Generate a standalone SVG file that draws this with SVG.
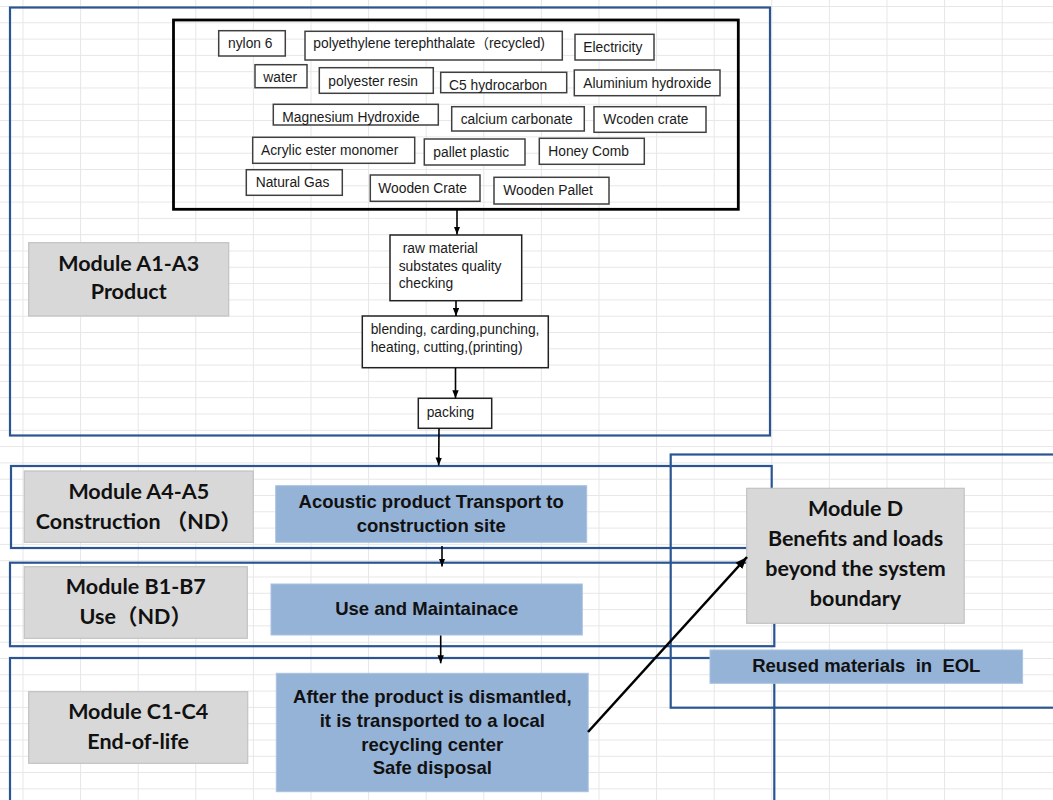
<svg xmlns="http://www.w3.org/2000/svg" width="1053" height="800" viewBox="0 0 1053 800">
<style>
.frame{fill:none;stroke:#2a5592;stroke-width:2.2}
.mat{fill:#fff;stroke:#404040;stroke-width:1.5}
.proc{fill:#fff;stroke:#222;stroke-width:1.5}
.mt{font-family:'Liberation Sans',Arial,'Noto Sans CJK SC',sans-serif;font-size:13.8px;fill:#1a1a1a}
.glab{fill:#d8d8d8;stroke:#c2c2c2;stroke-width:1.2}
.gt{font-family:Lato,'Noto Sans CJK SC',sans-serif;font-weight:700;font-size:21.5px;fill:#111;text-anchor:middle}
.blue{fill:#95b3d7;stroke:#a9c2e0;stroke-width:1}
.bt{font-family:'Liberation Sans',Arial,sans-serif;font-weight:700;font-size:18.5px;fill:#111;text-anchor:middle;white-space:pre}
.arr{stroke:#000;stroke-width:1.6;fill:none;marker-end:url(#ah)}
.arr2{stroke:#000;stroke-width:2.6;fill:none;marker-end:url(#ah2)}
</style>
<defs>
<pattern id="grid" x="22.5" y="6" width="57.6" height="16.3" patternUnits="userSpaceOnUse">
<path d="M0 0.5H57.6M0.5 0V16.3" stroke="#e6e6e6" stroke-width="1" fill="none"/>
</pattern>
<marker id="ah" markerUnits="userSpaceOnUse" markerWidth="8" markerHeight="8" viewBox="0 0 8 8" refX="8" refY="4" orient="auto">
<path d="M0 0.8L8 4L0 7.2Z" fill="#000"/>
</marker>
<marker id="ah2" markerUnits="userSpaceOnUse" markerWidth="12" markerHeight="10" viewBox="0 0 12 10" refX="12" refY="5" orient="auto">
<path d="M0 0.5L12 5L0 9.5Z" fill="#000"/>
</marker>
</defs>
<rect width="1053" height="800" fill="#fff"/>
<rect width="1053" height="800" fill="url(#grid)"/>

<g id="frames">
<rect id="frame-a1a3" class="frame" x="10" y="7.5" width="760" height="428"/>
<rect id="frame-a4a5" class="frame" x="11" y="466" width="760.7" height="82"/>
<rect id="frame-b1b7" class="frame" x="10" y="562.7" width="764.3" height="83.5"/>
<rect id="frame-c1c4" class="frame" x="10" y="658" width="764.3" height="170"/>
<rect id="frame-d" class="frame" x="670.7" y="454.5" width="420" height="253.2"/>
</g>

<g id="inputs">
<rect x="173.5" y="20" width="564.8" height="189.3" fill="none" stroke="#000" stroke-width="2.8"/>
<g id="m-nylon"><rect class="mat" x="218.7" y="30.7" width="66.6" height="25.3"/><text class="mt" x="228" y="48.3">nylon 6</text></g>
<g id="m-pet"><rect class="mat" x="305" y="31.3" width="257.3" height="28.7"/><text class="mt" x="313.3" y="48.3">polyethylene terephthalate（recycled)</text></g>
<g id="m-elec"><rect class="mat" x="575" y="34.3" width="79" height="25.7"/><text class="mt" x="583.3" y="51.6">Electricity</text></g>
<g id="m-water"><rect class="mat" x="255" y="64.7" width="52" height="23"/><text class="mt" x="263.3" y="82">water</text></g>
<g id="m-pres"><rect class="mat" x="319.3" y="67.7" width="114" height="25.6"/><text class="mt" x="328.3" y="85.6">polyester resin</text></g>
<g id="m-c5"><rect class="mat" x="440.7" y="72.3" width="126" height="20.4"/><text class="mt" x="449" y="90">C5 hydrocarbon</text></g>
<g id="m-alu"><rect class="mat" x="574.3" y="70" width="145.7" height="25.7"/><text class="mt" x="583.3" y="87.6">Aluminium hydroxide</text></g>
<g id="m-mg"><rect class="mat" x="273.3" y="104.3" width="165" height="20.7"/><text class="mt" x="282.3" y="122.2">Magnesium Hydroxide</text></g>
<g id="m-caco"><rect class="mat" x="451.7" y="106.7" width="132.6" height="24.3"/><text class="mt" x="460.7" y="124">calcium carbonate</text></g>
<g id="m-wcrate"><rect class="mat" x="594" y="106.7" width="112" height="25.6"/><text class="mt" x="603.3" y="124">Wcoden crate</text></g>
<g id="m-acryl"><rect class="mat" x="252.7" y="137.3" width="162" height="26"/><text class="mt" x="261" y="155">Acrylic ester monomer</text></g>
<g id="m-pallet"><rect class="mat" x="424.3" y="139" width="100.7" height="26"/><text class="mt" x="433.3" y="156.6">pallet plastic</text></g>
<g id="m-honey"><rect class="mat" x="539.3" y="138.3" width="105" height="26"/><text class="mt" x="548.3" y="156">Honey Comb</text></g>
<g id="m-gas"><rect class="mat" x="246.3" y="169.7" width="96" height="25.6"/><text class="mt" x="255.7" y="187.2">Natural Gas</text></g>
<g id="m-wcrate2"><rect class="mat" x="370.3" y="175" width="109.7" height="26.3"/><text class="mt" x="378.3" y="192.6">Wooden Crate</text></g>
<g id="m-wpallet"><rect class="mat" x="494" y="177.3" width="115" height="26.7"/><text class="mt" x="503.3" y="195">Wooden Pallet</text></g>
</g>

<g id="qc"><rect class="proc" x="390" y="235" width="131.7" height="65.7"/>
<text class="mt" x="402.7" y="253.3">raw material</text><text class="mt" x="398.7" y="271">substates quality</text><text class="mt" x="398.7" y="288.3">checking</text></g>
<g id="proc"><rect class="proc" x="362.3" y="316" width="186" height="51.7"/>
<text class="mt" x="370.7" y="334">blending, carding,punching,</text><text class="mt" x="370.7" y="352">heating, cutting,(printing)</text></g>
<g id="packing"><rect class="proc" x="418.3" y="398.3" width="73.4" height="30"/><text class="mt" x="426.7" y="416.5">packing</text></g>

<g id="lab-a1a3"><rect class="glab" x="28.7" y="242.7" width="200" height="73.3"/><text class="gt" x="128.7" y="271">Module A1-A3</text><text class="gt" x="128.7" y="299.4">Product</text></g>
<g id="lab-a4a5"><rect class="glab" x="24.3" y="471" width="229" height="71.3"/><text class="gt" x="138.8" y="499.4">Module A4-A5</text><text class="gt" x="138.8" y="528.7">Construction （ND）</text></g>
<g id="lab-b1b7"><rect class="glab" x="24.3" y="566.7" width="223" height="71.6"/><text class="gt" x="135.8" y="594.4">Module B1-B7</text><text class="gt" x="135.8" y="624.4">Use（ND）</text></g>
<g id="lab-c1c4"><rect class="glab" x="28.7" y="691.7" width="219" height="71.6"/><text class="gt" x="138.2" y="719.4">Module C1-C4</text><text class="gt" x="138.2" y="748.7">End-of-life</text></g>

<g id="transport"><rect class="blue" x="275.7" y="485.7" width="311" height="56.6"/><text class="bt" x="431.2" y="507.7">Acoustic product Transport to</text><text class="bt" x="431.2" y="531.7">construction site</text></g>
<g id="use"><rect class="blue" x="271" y="584" width="311.3" height="51"/><text class="bt" x="426.7" y="615">Use and Maintainace</text></g>
<g id="eol"><rect class="blue" x="276.3" y="673.3" width="311.9" height="118.4"/>
<text class="bt" x="432.3" y="703.4">After the product is dismantled,</text><text class="bt" x="432.3" y="726.7">it is transported to a local</text><text class="bt" x="432.3" y="751">recycling center</text><text class="bt" x="432.3" y="774">Safe disposal</text></g>

<g id="module-d"><rect class="glab" x="746.7" y="488.3" width="217.5" height="135"/>
<text class="gt" x="855.5" y="516">Module D</text><text class="gt" x="855.5" y="546">Benefits and loads</text><text class="gt" x="855.5" y="576">beyond the system</text><text class="gt" x="855.5" y="606">boundary</text></g>
<g id="reused"><rect class="blue" x="710" y="650" width="312.6" height="33.3"/><text class="bt" x="866.3" y="671.7">Reused materials  in  EOL</text></g>

<g id="connectors">
<path class="arr" d="M457 209.5V234.5"/>
<path class="arr" d="M456 301V316"/>
<path class="arr" d="M455.5 368V398.3"/>
<path class="arr" d="M439 428.5L438.7 465.5"/>
<path class="arr" d="M442 546V566.5"/>
<path class="arr" d="M440.7 635.5V663.3"/>
<path class="arr2" d="M588 732L747 557"/>
</g>
</svg>
